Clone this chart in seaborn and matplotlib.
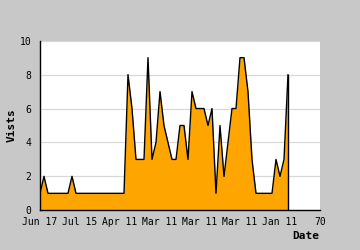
import matplotlib
matplotlib.use("Agg")
import matplotlib.pyplot as plt
import seaborn as sns
import pandas as pd
from matplotlib.ticker import MultipleLocator

visits = [1, 2, 1, 1, 1, 1, 1, 1, 2, 1,
          1, 1, 1, 1, 1, 1, 1, 1, 1, 1,
          1, 1, 8, 6, 3, 3, 3, 9, 3, 4,
          7, 5, 4, 3, 3, 5, 5, 3, 7, 6,
          6, 6, 5, 6, 1, 5, 2, 4, 6, 6,
          9, 9, 7, 3, 1, 1, 1, 1, 1, 3,
          2, 3, 8]
tick_positions = [0, 10, 20, 30, 40, 50, 60, 70]
tick_labels = ["Jun 17", "Jul 15", "Apr 11", "Mar 11", "Mar 11", "Mar 11", "Jan 11", "70"]
y_ticks = [0, 2, 4, 6, 8, 10]

df = pd.DataFrame({"idx": range(len(visits)), "visits": visits})

sns.set_style("white")
plt.rcParams["font.family"] = ["DejaVu Sans Mono", "DejaVu Sans"]

fig = plt.figure(figsize=(3.6, 2.5), dpi=100)
bg = "#c8c8c8"
fig.patch.set_facecolor(bg)
ax = fig.add_axes([40/360, (250-210.3)/250, 280/360, 169.6/250])
ax.set_facecolor("white")

ax.fill_between(df["idx"], 0, df["visits"], color="#ffa500", linewidth=0, zorder=2)
sns.lineplot(data=df, x="idx", y="visits", ax=ax, color="black", linewidth=1.0, zorder=3)
ax.plot([df["idx"].iloc[-1]] * 2, [0, visits[-1]], color="black", linewidth=1.0, zorder=3)

ax.set_xlim(0, 70)
ax.set_ylim(0, 10)
ax.set_xticks(tick_positions)
ax.set_xticklabels(tick_labels)
ax.set_yticks(y_ticks)
ax.yaxis.set_minor_locator(MultipleLocator(1))
ax.grid(axis="y", which="major", color="#d8d8d8", linewidth=0.9, zorder=1)
ax.set_axisbelow(True)

for s in ["top", "right"]:
    ax.spines[s].set_visible(False)
for s in ["left", "bottom"]:
    ax.spines[s].set_color("black")
    ax.spines[s].set_linewidth(1.0)
    ax.spines[s].set_zorder(4)

ax.tick_params(axis="both", which="both", direction="in", color="black",
               labelsize=7, labelcolor="black")
ax.tick_params(axis="x", which="major", length=4, width=1, pad=5)
ax.tick_params(axis="y", which="major", length=3, width=1, pad=6)
ax.tick_params(axis="y", which="minor", length=3, width=1)

ax.set_xlabel("")
ax.set_ylabel("")
fig.text(12/360, 1 - 125/250, "Vists", rotation=90, ha="center", va="center",
         fontsize=8, fontweight="bold", color="black")
fig.text(319/360, 1 - 236/250, "Date", ha="right", va="center",
         fontsize=8, fontweight="bold", color="black")

fig.savefig("out.png", dpi=100, facecolor=bg)
